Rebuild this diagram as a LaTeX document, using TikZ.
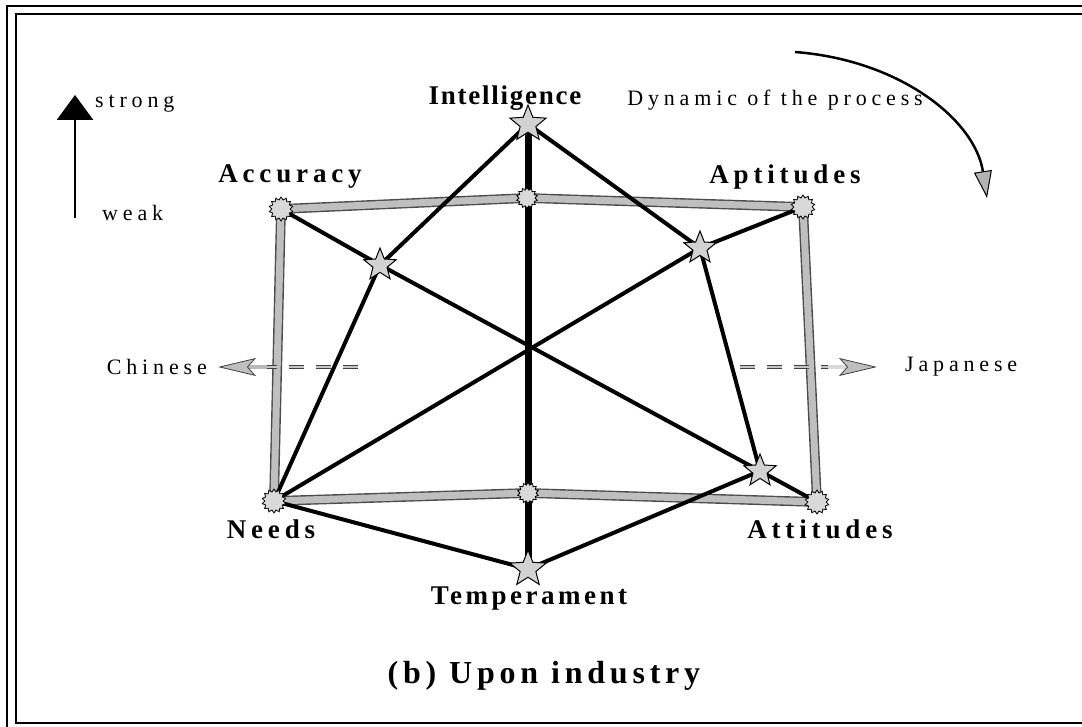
\documentclass[tikz,border=0pt]{standalone}
\usepackage{fontspec}
\setmainfont{Liberation Serif}
\newfontfamily\lblfont[LetterSpace=18]{Liberation Serif}
\newfontfamily\notefont[LetterSpace=22]{Liberation Serif}
\usetikzlibrary{shapes.geometric,arrows.meta}

\begin{document}
\begin{tikzpicture}[x=1pt,y=-1pt,
  lbl/.style={inner sep=0pt,font=\lblfont\bfseries\fontsize{27}{27}\selectfont},
  note/.style={inner sep=0pt,font=\notefont\fontsize{22}{22}\selectfont},
  starmk/.style={star,star points=5,star point ratio=2.3,minimum size=38pt,inner sep=0pt,
    draw=black,line width=1pt,fill=\tpStarFill},
  gearmk/.style={star,star points=14,star point ratio=1.3,minimum size=24pt,inner sep=0pt,
    draw=black,line width=0.8pt,fill=\tpGearFill},
  rail/.style={draw=black!70,line width=1.4pt,double=\tpRail,double distance=7pt,line join=round},
  tie/.style={draw=black,line width=4pt,line cap=round,line join=round},
  dashrail/.style={draw=black!75,line width=1pt,double=gray!45,double distance=2.5pt,
    dash pattern=on 15pt off 12pt},
  fatarrow/.style={draw=gray!55,line width=4pt,
    -{Stealth[length=38pt,width=18pt,inset=8pt,color=black!75,fill=gray!50,line width=0.8pt]}}]
% Colours of the diagram
\providecommand{\tpRail}{gray!50}
\providecommand{\tpStarFill}{gray!35}
\providecommand{\tpGearFill}{gray!30}
\useasboundingbox (0,0) rectangle (1082,727);
\clip (0,0) rectangle (1082,727);
% Double frame, cut at the right and bottom edges
\draw[line width=2pt] (7,6) rectangle (1100,760);
\draw[line width=2.6pt] (16,14) rectangle (1100,723);
% Positions of the criteria
\coordinate (acc) at (281,209);
\coordinate (apt) at (803,207);
\coordinate (need) at (274,501);
\coordinate (att) at (817,502);
\coordinate (mtop) at (527,198);
\coordinate (mbot) at (528,493);
\coordinate (intel) at (528,124);
\coordinate (temp) at (528,569);
\coordinate (sacc) at (380,265);
\coordinate (sapt) at (700,248);
\coordinate (satt) at (760,471);
% Grey frame of the cultures
\draw[rail] (acc) -- (mtop) -- (apt) -- (att) -- (mbot) -- (need) -- cycle;
% Black ties
\draw[tie,line width=7pt] (intel) -- (temp);
\draw[tie] (acc) -- (sacc) -- (satt) -- (att);
\draw[tie] (need) -- (sapt) -- (apt);
\draw[tie] (intel) -- (sacc) -- (need);
\draw[tie] (intel) -- (sapt) -- (satt);
\draw[tie] (need) -- (temp) -- (satt);
% Markers
\node[gearmk] (accmk) at (acc) {};
\node[gearmk] (aptmk) at (apt) {};
\node[gearmk] (needmk) at (need) {};
\node[gearmk] (attmk) at (att) {};
\node[gearmk,minimum size=21pt] (mtopmk) at (mtop) {};
\node[gearmk,minimum size=21pt] (mbotmk) at (mbot) {};
\node[starmk] (intelmk) at (intel) {};
\node[starmk] (tempmk) at (temp) {};
\node[starmk,minimum size=34pt] (saccmk) at (sacc) {};
\node[starmk,minimum size=34pt] (saptmk) at (sapt) {};
\node[starmk,minimum size=34pt] (sattmk) at (satt) {};
% Labels
\node[lbl,font=\lblfont\bfseries\fontsize{27}{27}\selectfont\addfontfeature{LetterSpace=6.5}]
  (intellbl) at (505,98) {Intelligence};
\node[lbl] (acclbl) at (290,177) {Accuracy};
\node[lbl] (aptlbl) at (785,177) {Aptitudes};
\node[lbl] (needlbl) at (271,529) {Needs};
\node[lbl] (attlbl) at (820,529) {Attitudes};
\node[lbl,font=\lblfont\bfseries\fontsize{27}{27}\selectfont\addfontfeature{LetterSpace=13}]
  (templbl) at (529,599) {Temperament};
\node[lbl,font=\lblfont\bfseries\fontsize{32}{32}\selectfont\addfontfeature{LetterSpace=15}]
  (title) at (544,676) {(b) Upon industry};
% Strength scale
\node[note,anchor=west] (strong) at (95,104) {strong};
\node[note,anchor=west] (weak) at (102,213) {weak};
\coordinate (scalelo) at (75,218);
\coordinate (scalehi) at (75,95);
\draw[line width=2.8pt,-{Triangle[length=25pt,width=36pt]}] (scalelo) -- (scalehi);
% Dynamic of the process
\node[note,anchor=east] (dynlbl) at (923,100) {Dynamic of the process};
\coordinate (dyns) at (795,52);
\coordinate (dyne) at (987,198);
\draw[line width=2.5pt,-{Triangle[length=27pt,width=18pt,fill=gray!60,line width=1pt]}]
  (dyns) .. controls (900,60) and (975,120) .. (dyne);
% Chinese and Japanese sides
\node[note,anchor=east] (chn) at (207,367) {Chinese};
\node[note,anchor=west] (jpn) at (905,367) {Japanese};
\coordinate (chdash) at (358,367);
\coordinate (chbase) at (267,367);
\coordinate (chtip) at (218,367);
\coordinate (jpdash) at (740,367);
\coordinate (jpbase) at (828,367);
\coordinate (jptip) at (877,367);
\draw[dashrail] (chdash) -- (chbase);
\draw[fatarrow] (chbase) -- (chtip);
\draw[dashrail] (jpdash) -- (jpbase);
\draw[fatarrow,draw=gray!30] (jpbase) -- (jptip);
\end{tikzpicture}
\end{document}
